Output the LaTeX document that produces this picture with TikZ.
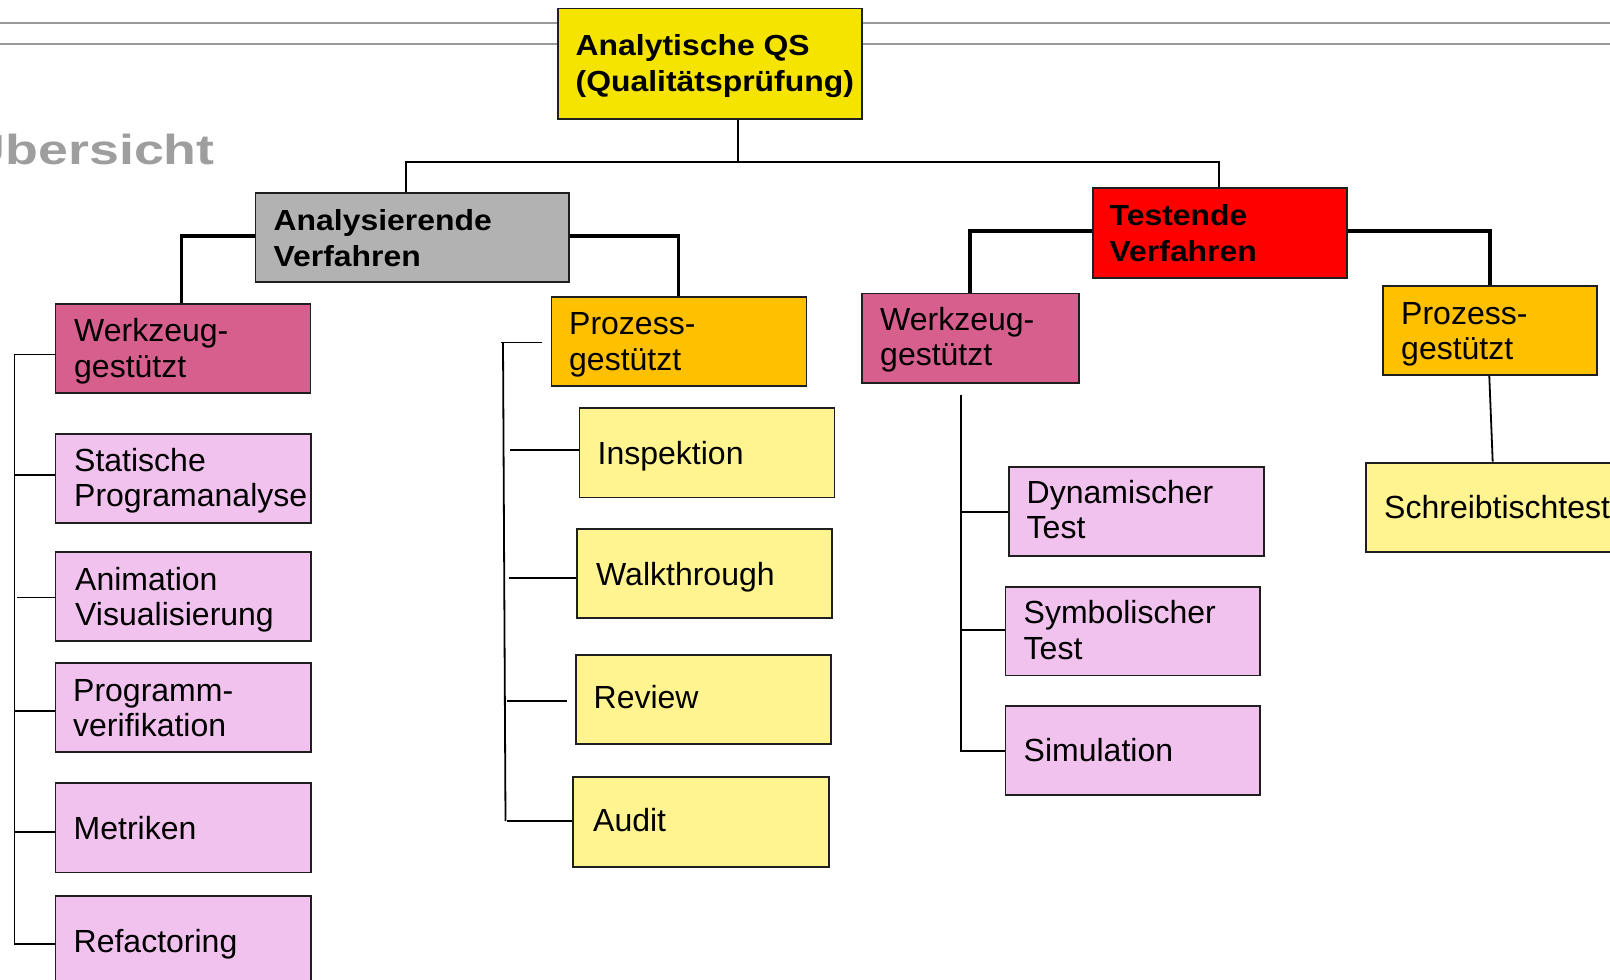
\documentclass[tikz,border=0pt]{standalone}
\usepackage{fontspec}
\setmainfont{Liberation Sans}
\usepackage{graphicx}
\usetikzlibrary{calc}
\definecolor{cRoot}{HTML}{F5E400}
\definecolor{cGrey}{HTML}{B2B2B2}
\definecolor{cRed}{HTML}{FF0000}
\definecolor{cMag}{HTML}{D75F8E}
\definecolor{cPink}{HTML}{F1C2EE}
\definecolor{cOrange}{HTML}{FFC000}
\definecolor{cLYel}{HTML}{FFF48F}
\definecolor{cRule}{HTML}{999999}
\definecolor{cTitle}{HTML}{9E9E9E}
\newcommand\ml[1]{\begin{tabular}[t]{@{}l@{}}#1\end{tabular}}
\newcommand\bl[1]{\scalebox{1.1}[1]{\ml{#1}}}
\begin{document}
\begin{tikzpicture}[x=1pt,y=-1pt,
 box/.style={draw=black!88,line width=1.8pt,inner sep=0pt,anchor=north west},
 rt/.style={anchor=base west,inner sep=0pt,font=\fontsize{32}{35.5}\selectfont},
 bt/.style={anchor=base west,inner sep=0pt,font=\fontsize{29}{36}\selectfont\bfseries},
 conn/.style={line width=1.8pt,black},
 thk/.style={line width=3.5pt,black}]
\clip (0,0) rectangle (1610,980);
\fill[white] (0,0) rectangle (1610,980);
% header rules
\draw[cRule,line width=2pt] (0,22.7) -- (1610,22.7);
\draw[cRule,line width=2pt] (0,44.3) -- (1610,44.3);
% title
\node[anchor=base west,inner sep=0pt,text=cTitle,font=\fontsize{42}{42}\selectfont\bfseries] (title) at (-33.5,164) {\scalebox{1.28}[1]{Übersicht}};
% boxes
\node[box,fill=cRoot,minimum width=304,minimum height=110.5] (root) at (557,7.5) {};
\node[box,fill=cGrey,minimum width=313.5,minimum height=89] (ana) at (254.5,192) {};
\node[box,fill=cRed,minimum width=254,minimum height=90] (test) at (1092,187) {};
\node[box,fill=cMag,minimum width=255,minimum height=89] (w1) at (54.5,303) {};
\node[box,fill=cPink,minimum width=255.5,minimum height=89.3] (sp) at (54.5,432.7) {};
\node[box,fill=cPink,minimum width=255.5,minimum height=89] (an) at (54.5,551) {};
\node[box,fill=cPink,minimum width=255.5,minimum height=89] (pv) at (54.5,662) {};
\node[box,fill=cPink,minimum width=255.5,minimum height=89.5] (me) at (54.5,782) {};
\node[box,fill=cPink,minimum width=255.5,minimum height=89] (rf) at (54.5,895) {};
\node[box,fill=cOrange,minimum width=255,minimum height=89] (pz1) at (550.5,296) {};
\node[box,fill=cLYel,minimum width=255,minimum height=89.5] (in) at (578.5,407) {};
\node[box,fill=cLYel,minimum width=255,minimum height=89] (wa) at (576,528) {};
\node[box,fill=cLYel,minimum width=255,minimum height=89] (rv) at (575,653.7) {};
\node[box,fill=cLYel,minimum width=255.5,minimum height=89.3] (au) at (572.3,776.4) {};
\node[box,fill=cMag,minimum width=217,minimum height=89.3] (w2) at (861,292.5) {};
\node[box,fill=cPink,minimum width=255,minimum height=89] (dy) at (1008,466) {};
\node[box,fill=cPink,minimum width=254.5,minimum height=88.8] (sy) at (1004.5,585.8) {};
\node[box,fill=cPink,minimum width=254.5,minimum height=88.6] (si) at (1004.5,705.4) {};
\node[box,fill=cOrange,minimum width=213.7,minimum height=89.3] (pz2) at (1382.3,285) {};
\node[box,fill=cLYel,minimum width=255,minimum height=89.3] (st) at (1365.3,461.7) {};
% texts
\node[bt] (t-root) at (575.5,55) {\bl{Analytische QS\\(Qualitätsprüfung)}};
\node[bt] (t-ana) at (273.5,230) {\bl{Analysierende\\Verfahren}};
\node[bt] (t-test) at (1109.5,225) {\bl{Testende\\Verfahren}};
\node[rt] (t-w1) at (74,341.6) {\ml{Werkzeug-\\gestützt}};
\node[rt] (t-sp) at (74,471) {\ml{Statische\\Programanalyse}};
\node[rt] (t-an) at (75,590) {\ml{Animation\\Visualisierung}};
\node[rt] (t-pv) at (73,701) {\ml{Programm-\\verifikation}};
\node[rt] (t-me) at (73.5,839) {Metriken};
\node[rt] (t-rf) at (73.5,952.5) {Refactoring};
\node[rt] (t-pz1) at (569,334.5) {\ml{Prozess-\\gestützt}};
\node[rt] (t-in) at (597.5,464) {Inspektion};
\node[rt] (t-wa) at (596,585) {Walkthrough};
\node[rt] (t-rv) at (593.5,708.6) {Review};
\node[rt] (t-au) at (593,831) {Audit};
\node[rt] (t-w2) at (880,330) {\ml{Werkzeug-\\gestützt}};
\node[rt] (t-dy) at (1026.5,503) {\ml{Dynamischer\\Test}};
\node[rt] (t-sy) at (1023.5,623.8) {\ml{Symbolischer\\Test}};
\node[rt] (t-si) at (1023.5,761) {Simulation};
\node[rt] (t-pz2) at (1401,324) {\ml{Prozess-\\gestützt}};
\node[rt] (t-st) at (1384,518.3) {Schreibtischtest};
% level 1 connectors
\coordinate (bus) at ([xshift=181,yshift=-42.5]root.south west);
\draw[conn] ([xshift=181]root.south west) -- (bus);
\draw[conn] ([xshift=151.5]ana.north west) |- (bus) -| ([xshift=127]test.north west);
% level 2 connectors
\draw[thk] ([yshift=-44]ana.north west) -| ([xshift=127]w1.north west);
\draw[thk] ([yshift=-44]ana.north east) -| ([xshift=128]pz1.north west);
\draw[thk] ([yshift=-44]test.north west) -| ([xshift=109]w2.north west);
\draw[thk] ([yshift=-44]test.north east) -| ([xshift=107.5]pz2.north west);
% bracket 1
\coordinate (L1a) at ([xshift=-40,yshift=-51.5]w1.north west);
\coordinate (L1b) at ([xshift=-40,yshift=-49]rf.north west);
\draw[conn] ([yshift=-51.5]w1.north west) -- (L1a) -- (L1b) -- ([yshift=-49]rf.north west);
\draw[conn] ([yshift=-42.3]sp.north west) -- +(-40,0);
\draw[conn] ([yshift=-46.4]an.north west) -- +(-38,0);
\draw[conn] ([yshift=-49]pv.north west) -- +(-40,0);
\draw[conn] ([yshift=-49.8]me.north west) -- +(-40,0);
% bracket 2
\coordinate (L2a) at ([xshift=-47.5,yshift=-47]pz1.north west);
\coordinate (L2b) at ([xshift=-66.8,yshift=-44.6]au.north west);
\draw[conn] ([xshift=-8.5,yshift=-46.5]pz1.north west) -- +(-41.5,0);
\draw[conn] (L2a) -- (L2b);
\draw[conn] ([yshift=-43]in.north west) -- +(-69,0);
\draw[conn] ([yshift=-49.8]wa.north west) -- +(-67,0);
\draw[conn] ([xshift=-8,yshift=-47.3]rv.north west) -- +(-60.5,0);
\draw[conn] ([yshift=-44.6]au.north west) -- +(-65.3,0);
% bracket 3
\coordinate (L3a) at ([xshift=99.6,yshift=-11.2]w2.south west);
\coordinate (s3a) at ([yshift=-46]dy.north west);
\coordinate (s3b) at ([yshift=-44.2]sy.north west);
\coordinate (s3c) at ([yshift=-45.6]si.north west);
\draw[conn] (L3a) -- (L3a |- s3c) -- (s3c);
\draw[conn] (s3a) -- (s3a -| L3a);
\draw[conn] (s3b) -- (s3b -| L3a);
% Prozess 2 -> Schreibtischtest
\draw[conn] ([xshift=107]pz2.south west) -- ([xshift=127.4]st.north west);
\end{tikzpicture}
\end{document}
